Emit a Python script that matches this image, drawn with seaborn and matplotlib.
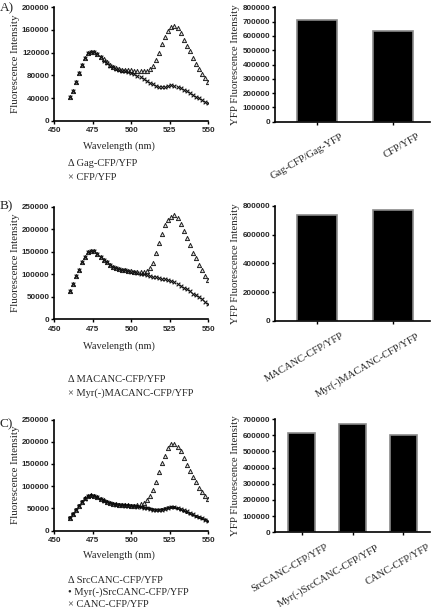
import matplotlib
matplotlib.use('Agg')
import matplotlib.pyplot as plt
import matplotlib.transforms as mtransforms
import seaborn as sns

# wavelengths (nm)
wl = [460, 462, 464, 466, 468, 470, 472, 474, 476, 478,
      480, 482, 484, 486, 488, 490, 492, 494, 496, 498,
      500, 502, 504, 506, 508, 510, 512, 514, 516, 518,
      520, 522, 524, 526, 528, 530, 532, 534, 536, 538,
      540, 542, 544, 546, 548, 550]

# A) spectra
a_gag = [42000, 53000, 69000, 84000, 99000, 111000, 119000, 122000, 121000, 118000,
         113000, 108000, 103000, 98000, 95000, 93000, 91000, 90000, 89500, 89000,
         89000, 88500, 88000, 87500, 87500, 88000, 92000, 97000, 107000, 119000,
         135000, 147000, 159000, 166000, 167000, 164000, 154000, 143000, 131000, 123000,
         110000, 100000, 91000, 82000, 76000, 69000]
a_cfp = [42000, 53000, 69000, 84000, 99000, 111000, 119000, 122000, 121000, 118000,
         112000, 106000, 101000, 97000, 94000, 91500, 89500, 88000, 87000, 86000,
         84500, 82000, 79500, 76500, 73000, 70000, 67000, 64000, 61500, 60000,
         59500, 60000, 61500, 62500, 62000, 60000, 57500, 54500, 51500, 48500,
         45500, 42500, 39500, 36500, 33500, 30500]

# B) spectra
b_mac = [63500, 77500, 96000, 110000, 128000, 139000, 148500, 152000, 151000, 145000,
         139000, 131500, 126500, 120500, 117000, 113000, 111000, 110000, 108700, 108000,
         107000, 106000, 105000, 104500, 105500, 108000, 113000, 125000, 147000, 170000,
         190000, 209000, 220000, 228000, 232000, 224000, 211000, 196000, 180000, 164000,
         148000, 135000, 120500, 109500, 96000, 87000]
b_myr = [63500, 77500, 96000, 110000, 128000, 139000, 148500, 152000, 151000, 145000,
         139000, 131500, 126500, 120500, 117000, 113000, 111000, 110000, 108700, 108000,
         106000, 104500, 103000, 101000, 99500, 98000, 96500, 95000, 93000, 91500,
         90000, 88500, 87000, 85000, 82000, 78000, 74000, 70000, 66500, 62000,
         57000, 53000, 48500, 44000, 39000, 34000]

# C) spectra
c_src = [29000, 37500, 47000, 56000, 65000, 72500, 77000, 79500, 78000, 75000,
         71000, 68000, 65000, 62000, 60500, 59000, 58500, 57500, 57500, 57000,
         56500, 56000, 57000, 59000, 63000, 68000, 77000, 90500, 110000, 131000,
         153000, 168000, 187000, 196000, 194000, 188000, 179000, 162500, 147500, 134000,
         121000, 110000, 97000, 87500, 78500, 70500]
c_myr = [29000, 37500, 47000, 56000, 65000, 72500, 77000, 79500, 78000, 75000,
         71000, 68000, 65000, 62000, 60500, 59000, 58500, 57500, 57500, 57000,
         56000, 55500, 54500, 53500, 52000, 51000, 49500, 47500, 46500, 46500,
         47500, 49500, 51500, 52500, 52000, 50000, 47000, 44000, 41000, 38000,
         35000, 32000, 29500, 27000, 24500, 21500]
c_canc = [29500, 37000, 46500, 56500, 64500, 72000, 77500, 79000, 78500, 75500,
          70500, 67500, 64500, 62000, 60000, 58500, 58000, 57000, 56500, 56000,
          55500, 55000, 54000, 53000, 52000, 50500, 49000, 47500, 46500, 46000,
          47000, 49000, 51000, 52500, 52500, 51500, 49500, 46500, 43500, 40500,
          37000, 34000, 31000, 28000, 25000, 22500]

# bar charts
bar_a_cats = ['Gag-CFP/Gag-YFP', 'CFP/YFP']
bar_a_vals = [712000, 633000]
bar_b_cats = ['MACANC-CFP/YFP', 'Myr(-)MACANC-CFP/YFP']
bar_b_vals = [740000, 772000]
bar_c_cats = ['SrcCANC-CFP/YFP', 'Myr(-)SrcCANC-CFP/YFP', 'CANC-CFP/YFP']
bar_c_vals = [616000, 668000, 600000]

legend_a = ['\u0394 Gag-CFP/YFP', '\u00d7 CFP/YFP']
legend_b = ['\u0394 MACANC-CFP/YFP', '\u00d7 Myr(-)MACANC-CFP/YFP']
legend_c = ['\u0394 SrcCANC-CFP/YFP', '\u2022 Myr(-)SrcCANC-CFP/YFP', '\u00d7 CANC-CFP/YFP']

sns.set_theme(style='ticks')
plt.rcParams['font.family'] = ['Liberation Serif', 'DejaVu Serif']

W, H = 433, 613
fig = plt.figure(figsize=(W / 100, H / 100), dpi=100)

SERIF = ['Liberation Serif', 'DejaVu Serif']
TICKFONT = dict(family=['Liberation Sans', 'DejaVu Sans'], weight='bold', size=5.8)


def add_ax(left, right, top, bottom):
    return fig.add_axes([left / W, 1 - bottom / H, (right - left) / W, (bottom - top) / H])


def style(ax):
    sns.despine(ax=ax)
    for s in ['left', 'bottom']:
        ax.spines[s].set_linewidth(1.2)
        ax.spines[s].set_color('black')
    ax.tick_params(length=2.5, width=1.0, color='black', direction='out')
    ax.tick_params(axis='y', pad=1)
    for lab in ax.get_yticklabels():
        lab.set(**TICKFONT)


def spectrum(ax, series, yticks, xlab_y):
    for vals, kind in series:
        if kind == 'tri':
            sns.scatterplot(x=wl, y=vals, marker='^', s=9, color='#dddddd', edgecolor='#222222',
                            linewidth=0.7, ax=ax, zorder=3)
        elif kind == 'x':
            sns.scatterplot(x=wl, y=vals, marker='x', s=7, color='#111111', linewidth=0.8,
                            ax=ax, zorder=4)
        else:
            sns.scatterplot(x=wl, y=vals, marker='o', s=5, color='black', edgecolor='none',
                            ax=ax, zorder=4)
    ax.set_xlim(450, 550)
    ax.set_ylim(0, yticks[-1])
    ax.set_xticks([450, 475, 500, 525, 550])
    ax.set_yticks(yticks)
    ax.set_yticklabels([str(v) for v in yticks])
    style(ax)
    ax.tick_params(axis='x', pad=2)
    for lab in ax.get_xticklabels():
        lab.set(**TICKFONT)
    ax.set_xlabel('Wavelength (nm)', family=SERIF, size=7.5, va='center')
    ax.xaxis.set_label_coords(0.42, xlab_y)
    ax.set_ylabel('Fluorescence Intensity', family=SERIF, size=7.8, va='center')
    ax.yaxis.set_label_coords(-0.255, 0.5)


def bars(ax, cats, vals, yticks, xlim):
    sns.barplot(x=cats, y=vals, color='black', saturation=1, edgecolor='#8a8a8a',
                linewidth=1.2, width=0.53, ax=ax)
    ax.set_xlim(*xlim)
    ax.set_ylim(0, yticks[-1])
    ax.set_yticks(yticks)
    ax.set_yticklabels([str(v) for v in yticks])
    style(ax)
    ax.tick_params(axis='x', pad=5)
    off = mtransforms.ScaledTranslation(0.24, 0, fig.dpi_scale_trans)
    for lab in ax.get_xticklabels():
        lab.set(family=SERIF, size=7.6, rotation=30, ha='right', va='top',
                rotation_mode='anchor')
        lab.set_transform(lab.get_transform() + off)
    ax.set_ylabel('YFP Fluorescence Intensity', family=SERIF, size=7.8, va='center')
    ax.yaxis.set_label_coords(-0.258, 0.5)


def legend_text(lines, y0, step):
    for i, t in enumerate(lines):
        fig.text(68 / W, 1 - (y0 + i * step) / H, t, family=SERIF, size=7.5,
                 ha='left', va='center')


# A
ax = add_ax(54.3, 208.3, 7.3, 120.7)
spectrum(ax, [(a_gag, 'tri'), (a_cfp, 'x')], [0, 40000, 80000, 120000, 160000, 200000], -0.229)
ax = add_ax(275, 430, 7.3, 121.7)
bars(ax, bar_a_cats, bar_a_vals,
     [0, 100000, 200000, 300000, 400000, 500000, 600000, 700000, 800000], (-0.55, 1.49))
legend_text(legend_a, 163, 14)
fig.text(0, 1 - 8 / H, 'A)', family=SERIF, size=9.5, ha='left', va='center')

# B
ax = add_ax(54.3, 208.3, 206.7, 319.3)
spectrum(ax, [(b_mac, 'tri'), (b_myr, 'x')], [0, 50000, 100000, 150000, 200000, 250000], -0.243)
ax = add_ax(275, 430, 206, 320.7)
bars(ax, bar_b_cats, bar_b_vals, [0, 200000, 400000, 600000, 800000], (-0.55, 1.49))
legend_text(legend_b, 380, 13.5)
fig.text(0, 1 - 206 / H, 'B)', family=SERIF, size=9.5, ha='left', va='center')

# C
ax = add_ax(54.3, 208.3, 419.5, 530.7)
spectrum(ax, [(c_src, 'tri'), (c_myr, 'dot'), (c_canc, 'x')],
         [0, 50000, 100000, 150000, 200000, 250000], -0.219)
ax = add_ax(275, 430, 419.1, 532.3)
bars(ax, bar_c_cats, bar_c_vals,
     [0, 100000, 200000, 300000, 400000, 500000, 600000, 700000], (-0.52, 2.52))
legend_text(legend_c, 580.5, 12)
fig.text(0, 1 - 424 / H, 'C)', family=SERIF, size=9.5, ha='left', va='center')

fig.savefig('out.png', dpi=100)
